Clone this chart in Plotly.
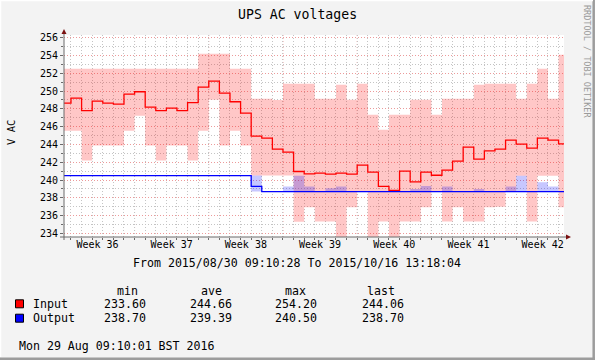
import plotly.graph_objects as go
import pandas as pd

# ---------------- data ----------------
start_time = "2015-08-30 09:10:28"
end_time = "2015-10-16 13:18:04"
first_full_day = "2015-08-31 01:00:00"   # daily consolidation boundaries

in_avg = [248.65, 249.20, 247.80, 248.87, 248.65, 248.53, 249.66, 249.92, 248.20, 247.80,
          248.08, 247.80, 248.70, 250.45, 251.12, 249.77, 248.80, 247.52, 244.93, 244.71,
          243.47, 243.13, 240.96, 240.70, 240.77, 240.66, 240.77, 240.66, 241.67, 240.88,
          239.30, 238.85, 241.00, 239.80, 240.88, 240.54, 241.11, 242.12, 243.70, 242.35,
          243.28, 243.47, 244.49, 244.04, 243.59, 244.71, 244.49, 244.06]
in_max = [252.5, 252.5, 252.5, 252.5, 252.5, 252.5, 252.5, 252.5, 252.5, 252.5,
          252.5, 252.5, 252.5, 254.2, 254.2, 254.2, 252.5, 252.5, 249.13, 249.13,
          249.0, 250.82, 250.82, 250.82, 249.13, 249.13, 250.7, 249.02, 250.82, 247.33,
          245.65, 247.33, 247.33, 249.02, 249.02, 247.33, 249.13, 249.13, 249.13, 250.71,
          250.82, 250.82, 250.82, 249.13, 250.82, 252.51, 249.13, 254.09]
in_min = [245.53, 245.53, 242.2, 243.88, 243.88, 243.88, 245.53, 247.22, 243.88, 242.2,
          243.88, 243.88, 242.2, 245.53, 249.02, 243.88, 245.53, 243.88, 240.5, 240.5,
          240.5, 240.5, 235.3, 236.94, 235.33, 235.33, 233.6, 236.94, 238.7, 233.6,
          235.33, 233.6, 235.33, 235.33, 236.94, 238.7, 235.33, 236.94, 235.33, 235.33,
          236.94, 237.0, 238.7, 240.47, 235.33, 240.47, 240.47, 236.94]
out_avg = [240.5] * 18 + [239.3] + [238.7] * 29
out_max = [240.5] * 18 + [240.5, 238.7, 238.7, 239.27, 240.47, 239.27, 238.7, 239.08, 239.27, 238.7,
                          238.7, 238.7, 238.7, 238.7, 238.7, 239.0, 239.34, 238.7, 239.27, 238.7,
                          238.7, 239.0, 238.7, 238.7, 239.27, 240.47, 238.7, 239.75, 239.27, 238.7]
out_min = [240.5] * 18 + [238.7] * 30

week_labels = ["Week 36", "Week 37", "Week 38", "Week 39", "Week 40", "Week 41", "Week 42"]
week_label_pos = ["2015-09-02 13:00", "2015-09-09 13:00", "2015-09-16 13:00", "2015-09-23 13:00",
                  "2015-09-30 13:00", "2015-10-07 13:00", "2015-10-14 13:00"]
week_grid = ["2015-09-06 01:00", "2015-09-13 01:00", "2015-09-20 01:00", "2015-09-27 01:00",
             "2015-10-04 01:00", "2015-10-11 01:00"]

legend_rows = [("Input", "#FF0000", "233.60", "244.66", "254.20", "244.06"),
               ("Output", "#0000FF", "238.70", "239.39", "240.50", "238.70")]

title = "UPS AC voltages"
y_label = "V AC"
period_text = "From 2015/08/30 09:10:28 To 2015/10/16 13:18:04"
footer = "Mon 29 Aug 09:10:01 BST 2016"
watermark = "RRDTOOL / TOBI OETIKER"

# ---------------- build ----------------
x = ([pd.Timestamp(start_time)] + list(pd.date_range(first_full_day, periods=47, freq="D"))
     + [pd.Timestamp(end_time)])


def stepy(v):
    return list(v) + [v[-1]]


FONT = "DejaVu Sans Mono"
W, H = 595, 360
L, R, T, B = 64, 31, 35, 123


def PX(px):
    return (px - L) / (W - L - R)


def PY(py):
    return (H - B - py) / (H - T - B)


fig = go.Figure()
common = dict(mode="lines", hoverinfo="skip", showlegend=False)
fig.add_trace(go.Scatter(x=x, y=stepy(in_min), line=dict(width=0, shape="hv"), **common))
fig.add_trace(go.Scatter(x=x, y=stepy(in_max), line=dict(width=0, shape="hv"), fill="tonexty",
                         fillcolor="rgba(255,0,0,0.22)", **common))
fig.add_trace(go.Scatter(x=x, y=stepy(out_min), line=dict(width=0, shape="hv"), **common))
fig.add_trace(go.Scatter(x=x, y=stepy(out_max), line=dict(width=0, shape="hv"), fill="tonexty",
                         fillcolor="rgba(0,0,255,0.22)", **common))
fig.add_trace(go.Scatter(x=x, y=stepy(in_avg), line=dict(width=1.3, shape="hv", color="#FF0000"), **common))
fig.add_trace(go.Scatter(x=x, y=stepy(out_avg), line=dict(width=1.3, shape="hv", color="#0000FF"), **common))

GRID_MINOR = "#c4c4c4"
GRID_MAJOR = "#ec9a9a"
DOT = "1px,2px"

shapes = []
for g in week_grid:
    shapes.append(dict(type="line", xref="x", yref="paper", x0=g, x1=g, y0=0, y1=1,
                       line=dict(color=GRID_MAJOR, width=1, dash=DOT), layer="between"))
# axis lines
AX = "#6a6a6a"
shapes.append(dict(type="line", xref="paper", yref="paper", x0=PX(60), x1=PX(567), y0=PY(237), y1=PY(237),
                   line=dict(color=AX, width=1)))
shapes.append(dict(type="line", xref="paper", yref="paper", x0=PX(64), x1=PX(64), y0=PY(240), y1=PY(32),
                   line=dict(color=AX, width=1)))
ARROW = "#7a1010"
shapes.append(dict(type="path", xref="paper", yref="paper",
                   path=f"M {PX(61.5)},{PY(34)} L {PX(66.5)},{PY(34)} L {PX(64)},{PY(29)} Z",
                   fillcolor=ARROW, line=dict(width=0)))
shapes.append(dict(type="path", xref="paper", yref="paper",
                   path=f"M {PX(566)},{PY(234.5)} L {PX(566)},{PY(239.5)} L {PX(571)},{PY(237)} Z",
                   fillcolor=ARROW, line=dict(width=0)))
# frame
shapes.append(dict(type="line", xref="paper", yref="paper", x0=PX(0), x1=PX(595), y0=PY(358.7), y1=PY(358.7),
                   line=dict(color="#9c9c9c", width=2.5)))
shapes.append(dict(type="line", xref="paper", yref="paper", x0=PX(593.7), x1=PX(593.7), y0=PY(0), y1=PY(360),
                   line=dict(color="#9c9c9c", width=2.5)))
shapes.append(dict(type="line", xref="paper", yref="paper", x0=PX(0), x1=PX(593), y0=PY(0.5), y1=PY(0.5),
                   line=dict(color="#ffffff", width=1.5)))
shapes.append(dict(type="line", xref="paper", yref="paper", x0=PX(0.5), x1=PX(0.5), y0=PY(0), y1=PY(357),
                   line=dict(color="#ffffff", width=1.5)))

annotations = []


def txt(s, px, py, size, xanchor="left", color="#000000", angle=0):
    annotations.append(dict(text=s, x=PX(px), y=PY(py), xref="paper", yref="paper", showarrow=False,
                            xanchor=xanchor, yanchor="middle", textangle=angle,
                            font=dict(family=FONT, size=size, color=color)))


txt(title, 297, 15, 13.2, xanchor="center")
txt(y_label, 11, 133, 10.5, xanchor="center", angle=-90)
txt(watermark, 587, 61, 8.5, xanchor="center", color="#9a9a9a", angle=90)
txt(period_text, 297, 262.5, 11.6, xanchor="center")
txt("min", 115, 290.5, 11.6)
txt("ave", 199, 290.5, 11.6)
txt("max", 282.7, 290.5, 11.6)
txt("last", 365.3, 290.5, 11.6)
row_y = [303.8, 318.2]
for (name, col, mn, av, mx, ls), ry in zip(legend_rows, row_y):
    shapes.append(dict(type="rect", xref="paper", yref="paper", x0=PX(15.5), x1=PX(23.5),
                       y0=PY(ry - 4), y1=PY(ry + 4), fillcolor=col, line=dict(color="#000000", width=1)))
    txt(name, 30.5, ry, 11.6)
    txt(mn, 102.3, ry, 11.6)
    txt(av, 188.3, ry, 11.6)
    txt(mx, 273.3, ry, 11.6)
    txt(ls, 360.3, ry, 11.6)
txt(footer, 16.5, 346, 11.6)

fig.update_layout(
    width=W, height=H, margin=dict(l=L, r=R, t=T, b=B, pad=0),
    paper_bgcolor="#f3f3f3", plot_bgcolor="#ffffff",
    shapes=shapes, annotations=annotations, showlegend=False,
    font=dict(family=FONT, size=10, color="#000000"),
)
fig.update_xaxes(
    type="date", range=[start_time, end_time], showgrid=False, zeroline=False, showline=False,
    tickmode="array", tickvals=week_label_pos, ticktext=week_labels, ticks="",
    tickfont=dict(family=FONT, size=10, color="#000000"),
    minor=dict(tickmode="linear", tick0=first_full_day, dtick=86400000, showgrid=True,
               gridcolor=GRID_MINOR, griddash=DOT, gridwidth=1, ticks="outside", ticklen=2, tickcolor=AX),
)
fig.update_yaxes(
    range=[233.6, 256.3], tickmode="linear", tick0=0, dtick=2, showgrid=True, gridcolor=GRID_MAJOR,
    griddash=DOT, gridwidth=1, zeroline=False, showline=False, ticks="outside", ticklen=3, tickcolor=AX,
    tickfont=dict(family=FONT, size=10, color="#000000"),
    minor=dict(dtick=1, showgrid=True, gridcolor=GRID_MINOR, griddash=DOT, gridwidth=1,
               ticks="outside", ticklen=2, tickcolor=AX),
)

fig.write_html("out.html", config={"displayModeBar": False},
               post_script="document.body.style.margin='0px';document.body.style.padding='0px';")
